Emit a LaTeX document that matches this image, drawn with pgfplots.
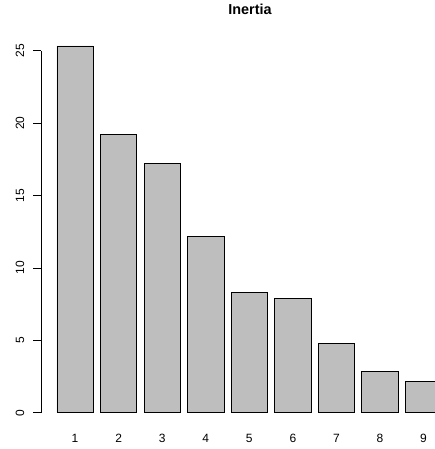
\documentclass[border=0pt]{standalone}
\usepackage{fontspec}
\setmainfont{Liberation Sans}
\usepackage{pgfplots}
\pgfplotsset{compat=1.18}
\begin{document}
\begin{tikzpicture}
\begin{axis}[
  scale only axis,
  width=393.5bp, height=395.6bp,
  at={(41.5bp,21.6bp)}, anchor=south west,
  xmin=-0.224, xmax=10.616,
  ymin=-1.012, ymax=26.31,
  clip=false,
  axis line style={draw=none},
  /pgf/number format/assume math mode=true,
  ybar, bar width=1, 
  xtick={0.7,1.9,3.1,4.3,5.5,6.7,7.9,9.1,10.3},
  xticklabels={1,2,3,4,5,6,7,8,9},
  x tick style={draw=none},
  xticklabel style={anchor=center, yshift=-2.6bp, inner sep=0pt, font=\fontsize{12bp}{14bp}\selectfont},
  ytick={0,5,10,15,20,25},
  y tick style={black, line width=0.75bp},
  tick align=outside,
  major tick length=8bp,
  yticklabel style={anchor=center, xshift=-13.5bp, rotate=90, inner sep=0pt, font=\fontsize{12bp}{14bp}\selectfont},
  title={Inertia},
  title style={at={(0.5299,1.0278)}, anchor=base, inner sep=0pt, font=\bfseries\fontsize{14.4bp}{16bp}\selectfont},
]
\addplot[fill={rgb,255:red,190;green,190;blue,190}, draw=black, line width=0.75bp, bar shift=0pt]
  coordinates {(0.7,25.33) (1.9,19.22) (3.1,17.2) (4.3,12.2) (5.5,8.29) (6.7,7.87) (7.9,4.76) (9.1,2.84) (10.3,2.16)};
\draw[black, line width=0.75bp] (axis cs:-0.224,0) -- (axis cs:-0.224,25);
\end{axis}
\pgfresetboundingbox
\useasboundingbox (0,0) rectangle (435bp,449bp);
\end{tikzpicture}
\end{document}
